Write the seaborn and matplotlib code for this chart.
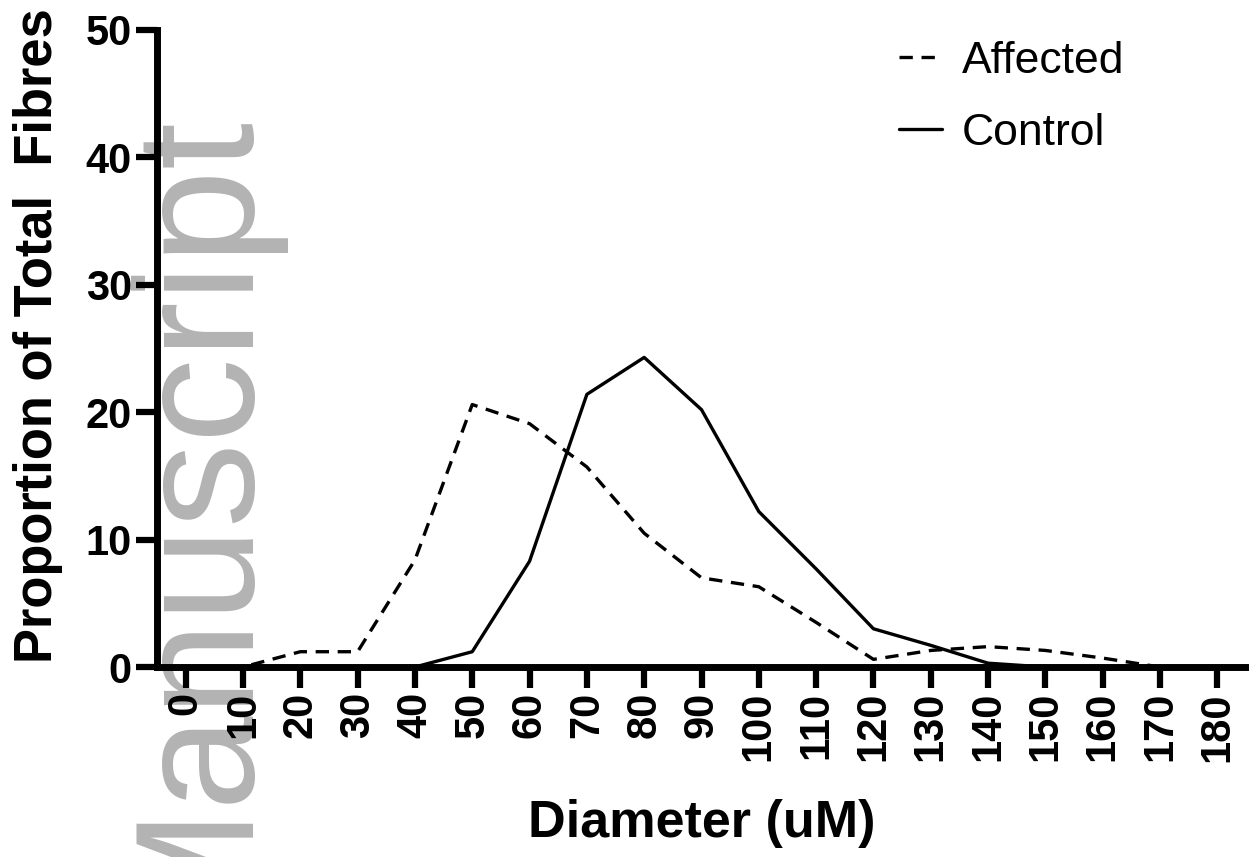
import matplotlib
matplotlib.use("Agg")
import matplotlib.pyplot as plt
import seaborn as sns
import pandas as pd

diameters = [0, 10, 20, 30, 40, 50, 60, 70, 80, 90, 100, 110, 120, 130, 140, 150, 160, 170, 180]
affected = [0, 0, 1.2, 1.2, 8.4, 20.6, 19.1, 15.7, 10.5, 7.0, 6.3, 3.5, 0.6, 1.3, 1.6, 1.3, 0.7, 0, 0]
control = [0, 0, 0, 0, 0, 1.2, 8.3, 21.4, 24.3, 20.2, 12.2, 7.7, 3.0, 1.7, 0.3, 0, 0, 0, 0]
series_names = ["Affected", "Control"]
tick_labels = [str(d) for d in diameters]
y_ticks = [0, 10, 20, 30, 40, 50]

df = pd.DataFrame({
    "Diameter": diameters * 2,
    "Value": affected + control,
    "Group": [series_names[0]] * len(diameters) + [series_names[1]] * len(diameters),
})

sns.set_style("ticks")
plt.rcParams["font.family"] = ["Liberation Sans", "DejaVu Sans"]
for k in ["text.color", "axes.labelcolor", "xtick.color", "ytick.color", "axes.edgecolor"]:
    plt.rcParams[k] = "black"

fig = plt.figure(figsize=(12.49, 8.57), dpi=100)
ax = fig.add_axes([0.1257, 0.2217, 0.9976 - 0.1257, 0.965 - 0.2217])
ax.patch.set_alpha(0)

sns.lineplot(data=df, x="Diameter", y="Value", style="Group",
             dashes={"Affected": (4, 2.6), "Control": ""},
             color="black", linewidth=2.4, ax=ax, legend=True)

ax.set_xlim(-5, 185)
ax.set_ylim(0, 50)
ax.set_xticks(diameters)
ax.set_xticklabels(tick_labels, rotation=90, fontsize=30, fontweight="bold")
ax.set_yticks(y_ticks)
ax.set_yticklabels([str(v) for v in y_ticks], fontsize=30, fontweight="bold")
ax.tick_params(axis="both", width=4.5, length=15, color="black", pad=3)
for s in ["top", "right"]:
    ax.spines[s].set_visible(False)
for s in ["left", "bottom"]:
    ax.spines[s].set_linewidth(5)
    ax.spines[s].set_color("black")

ax.set_xlabel("Diameter (uM)", fontsize=37.5, fontweight="bold", labelpad=27)
ax.set_ylabel("Proportion of Total  Fibres", fontsize=37.8, fontweight="bold")
ax.yaxis.set_label_coords(-0.0865, 0.52)

handles, labels = ax.get_legend_handles_labels()
leg = ax.legend(handles, labels, loc="upper left", bbox_to_anchor=(0.645, 1.046),
                frameon=False, fontsize=32, handlelength=0.95, handletextpad=0.45,
                labelspacing=0.7)

# watermark
ax.text(240 / 1249, 1 - 108 / 857, "Manuscript", transform=fig.transFigure,
        rotation=90, rotation_mode="anchor", ha="right", va="baseline",
        fontsize=122, color="#b3b3b3", zorder=0.5, clip_on=False,
        family="Liberation Sans")

fig.savefig("out.png", dpi=100)
